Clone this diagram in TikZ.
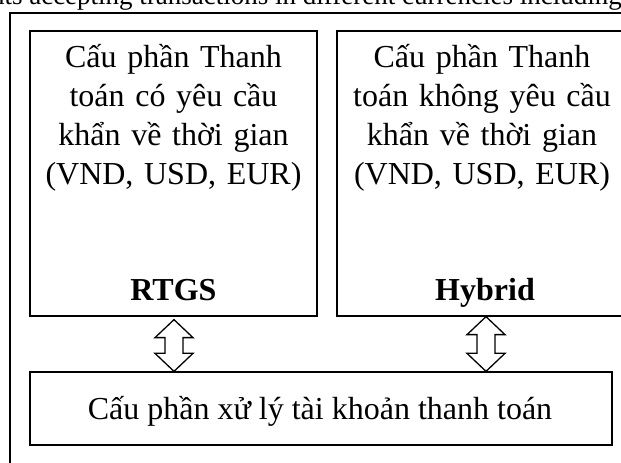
\documentclass[tikz,border=0pt]{standalone}
\usepackage{fontspec}
\setmainfont{Liberation Serif}
\usetikzlibrary{calc}

% hollow two-way block arrow between a top point and a bottom point
\newcommand\twoway[2]{%
  \draw[hollow] (#1) -- ++(19,-18) -- ++(-10,0)
    -- ($(#2)+(9,18)$) -- ++(10,0) -- (#2) -- ++(-19,18) -- ++(10,0)
    -- ($(#1)+(-9,-18)$) -- ++(-10,0) -- cycle;}

\begin{document}
\begin{tikzpicture}[x=1pt,y=1pt,
  frame/.style={draw, line width=1.2pt},
  panel/.style={draw, line width=1.3pt, inner sep=0pt, fill=white},
  body/.style={inner sep=0pt, text width=300pt, align=center,
    font=\fontsize{32}{39}\selectfont},
  tag/.style={inner sep=0pt, font=\fontsize{32}{39}\selectfont\bfseries},
  hollow/.style={draw, line width=1.3pt, fill=white, line join=miter}]

\useasboundingbox (0,0) rectangle (621,463);
\clip (0,0) rectangle (621,463);
\fill[white] (0,0) rectangle (621,463);

% running text above the frame
\node[anchor=base east, inner sep=0pt, font=\fontsize{27}{30}\selectfont]
  (caption) at (622,458) {ents accepting transactions in different currencies including};

% outer frame
\draw[frame] (10,-30) rectangle (660,450);

% the two payment components
\node[panel, minimum width=287pt, minimum height=285pt] (rtgs) at (173.5,289.5) {};
\node[panel, minimum width=290pt, minimum height=285pt] (hybrid) at (482,289.5) {};

\node[body, anchor=base] (rtgstext) at (173.5,395)
  {Cấu phần Thanh\\toán có yêu cầu\\khẩn về thời gian\\(VND, USD, EUR)};
\node[body, anchor=base] (hybridtext) at (482,395)
  {Cấu phần Thanh\\toán không yêu cầu\\khẩn về thời gian\\(VND, USD, EUR)};

\node[tag, anchor=base] (rtgstag) at (173.5,162) {RTGS};
\node[tag, anchor=base] (hybridtag) at (485,162) {Hybrid};

% account processing component
\node[panel, minimum width=582pt, minimum height=73pt] (ledger) at (321,54.5) {};
\node[inner sep=0pt, anchor=base, font=\fontsize{32}{39}\selectfont]
  (ledgertext) at (320,43) {Cấu phần xử lý tài khoản thanh toán};

% two-way links
\coordinate (t1) at ([xshift=0.5pt,yshift=-3pt]rtgs.south);
\coordinate (b1) at (t1 |- ledger.north);
\coordinate (t2) at ([xshift=4pt]hybrid.south);
\coordinate (b2) at (t2 |- ledger.north);
\twoway{t1}{b1}
\twoway{t2}{b2}

\end{tikzpicture}
\end{document}
